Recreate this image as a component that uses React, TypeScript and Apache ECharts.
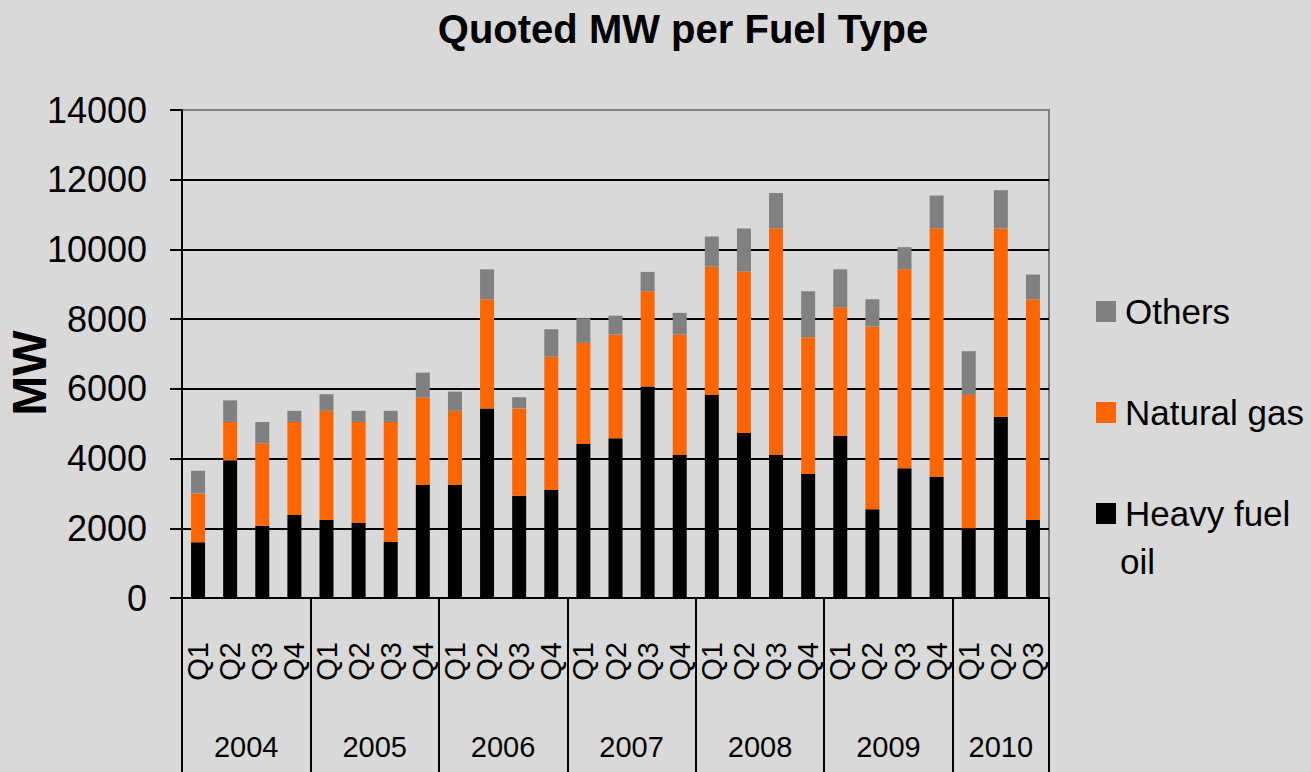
import React, { useEffect, useRef } from "react";
import * as echarts from "echarts";

const quarters = [
  "Q1", "Q2", "Q3", "Q4",
  "Q1", "Q2", "Q3", "Q4",
  "Q1", "Q2", "Q3", "Q4",
  "Q1", "Q2", "Q3", "Q4",
  "Q1", "Q2", "Q3", "Q4",
  "Q1", "Q2", "Q3", "Q4",
  "Q1", "Q2", "Q3",
];
const years = ["2004", "2005", "2006", "2007", "2008", "2009", "2010"];
const quartersPerYear = [4, 4, 4, 4, 4, 4, 3];

const heavyFuelOil = [1600, 3950, 2070, 2380, 2240, 2150, 1610, 3240, 3240, 5440, 2935, 3100, 4420, 4580, 6065, 4100, 5825, 4735, 4100, 3560, 4655, 2545, 3720, 3480, 2000, 5200, 2240];
const naturalGas = [1400, 1100, 2370, 2670, 3130, 2900, 3440, 2510, 2130, 3130, 2505, 3825, 2900, 2975, 2735, 3455, 3680, 4630, 6500, 3920, 3685, 5240, 5710, 7120, 3825, 5400, 6330];
const others = [650, 620, 610, 320, 475, 320, 320, 715, 550, 860, 320, 785, 705, 545, 555, 625, 865, 1235, 1020, 1320, 1090, 785, 635, 945, 1255, 1100, 710];

const yTicks = [0, 2000, 4000, 6000, 8000, 10000, 12000, 14000];

const FONT = "'Liberation Sans', Arial, sans-serif";

export default function App() {
  const ref = useRef<HTMLDivElement>(null);
  useEffect(() => {
    if (!ref.current) return;
    const chart = echarts.init(ref.current, undefined, { renderer: "svg" });

    const bounds: number[] = [0];
    const centers: number[] = [];
    let acc = 0;
    quartersPerYear.forEach((n) => {
      centers.push(acc + n / 2);
      acc += n;
      bounds.push(acc);
    });
    const yearAt = (v: number) => {
      const i = centers.findIndex((c) => Math.abs(c - v) < 1e-6);
      return i >= 0 ? years[i] : "";
    };

    const gridColors = yTicks.map((t, i) => (i === yTicks.length - 1 ? "#808080" : "#000000"));

    chart.setOption({
      animation: false,
      backgroundColor: "#d9d9d9",
      title: {
        text: "Quoted MW per Fuel Type",
        left: 678,
        top: 4,
        textAlign: "center",
        textStyle: { fontFamily: FONT, fontWeight: "bold", fontSize: 40, color: "#000" },
      },
      legend: {
        orient: "vertical",
        left: 1091,
        top: 289,
        itemWidth: 20,
        itemHeight: 21,
        itemGap: 66,
        icon: "rect",
        data: ["Others", "Natural gas", "Heavy fuel oil"],
        formatter: (name: string) => (name === "Heavy fuel oil" ? "Heavy fuel" : name),
        textStyle: { fontFamily: FONT, fontSize: 35, color: "#000", padding: [0, 0, 0, 4] },
      },
      graphic: [
        {
          type: "text",
          x: 1120,
          y: 561,
          style: { text: "oil", font: `35px ${FONT}`, fill: "#000", textVerticalAlign: "middle" },
        },
        {
          type: "text",
          x: 29,
          y: 373,
          rotation: Math.PI / 2,
          style: {
            text: "MW",
            font: `bold 48px ${FONT}`,
            fill: "#000",
            textAlign: "center",
            textVerticalAlign: "middle",
          },
        },
      ],
      grid: {
        left: 182,
        right: 262,
        top: 110,
        bottom: 174,
        show: true,
        borderColor: "#808080",
        borderWidth: 2,
        backgroundColor: "transparent",
      },
      xAxis: [
        {
          type: "category",
          data: quarters,
          position: "bottom",
          axisLine: { lineStyle: { color: "#000", width: 2 } },
          axisTick: { interval: 0, length: 92, lineStyle: { color: "#000", width: 1.5 } },
          axisLabel: {
            interval: 0,
            rotate: 90,
            margin: 44,
            fontFamily: FONT,
            fontSize: 29,
            color: "#000",
          },
        },
        {
          type: "value",
          min: 0,
          max: quarters.length,
          position: "bottom",
          axisLine: { show: false },
          splitLine: { show: false },
          axisTick: {
            show: true,
            customValues: bounds,
            length: 174,
            lineStyle: { color: "#000", width: 2 },
          },
          axisLabel: {
            customValues: centers,
            formatter: (v: number) => yearAt(v),
            margin: 134,
            fontFamily: FONT,
            fontSize: 29,
            color: "#000",
          },
        },
      ],
      yAxis: {
        type: "value",
        min: 0,
        max: 14000,
        interval: 2000,
        axisLine: { show: true, lineStyle: { color: "#000", width: 2 } },
        axisTick: { show: true, length: 12, lineStyle: { color: "#000", width: 2 } },
        axisLabel: {
          margin: 35,
          fontFamily: FONT,
          fontSize: 36,
          color: "#000",
          formatter: (v: number) => String(v),
        },
        splitLine: { show: true, lineStyle: { color: gridColors, width: 2 } },
      },
      series: [
        {
          name: "Heavy fuel oil",
          type: "bar",
          stack: "total",
          data: heavyFuelOil,
          barWidth: 14,
          itemStyle: { color: "#000000" },
        },
        {
          name: "Natural gas",
          type: "bar",
          stack: "total",
          data: naturalGas,
          barWidth: 14,
          itemStyle: { color: "#ff6600" },
        },
        {
          name: "Others",
          type: "bar",
          stack: "total",
          data: others,
          barWidth: 14,
          itemStyle: { color: "#808080" },
        },
      ],
    });
    return () => chart.dispose();
  }, []);
  return (
    <div
      ref={ref}
      style={{ position: "fixed", left: 0, top: 0, width: 1311, height: 772 }}
    />
  );
}
